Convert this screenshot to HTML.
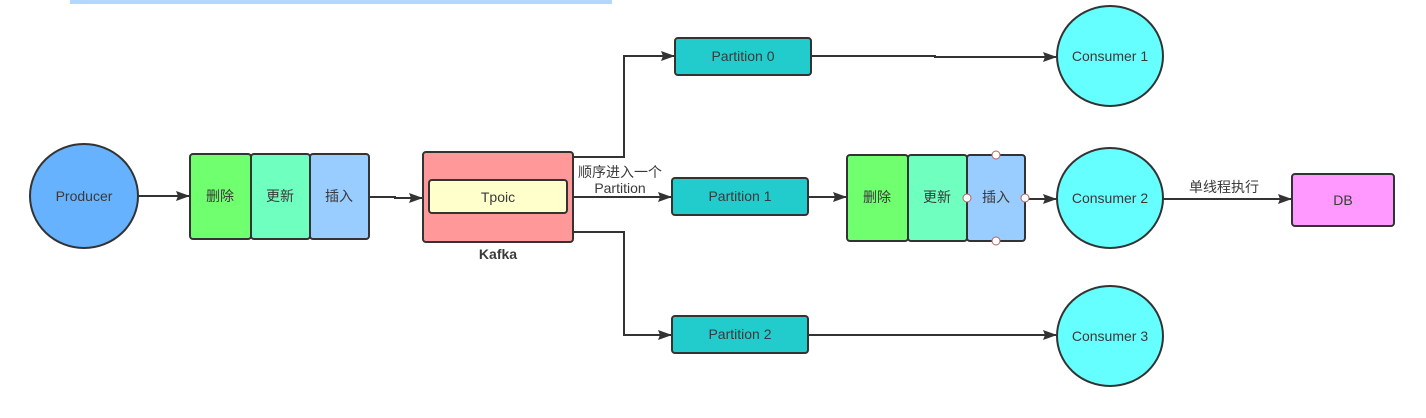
<!DOCTYPE html>
<html><head><meta charset="utf-8"><style>
html,body{margin:0;padding:0;background:#fff;}
svg{display:block;}
text{font-family:"Liberation Sans","Noto Sans CJK SC",sans-serif;font-size:14px;fill:#3a3a3a;}
</style></head><body>
<svg width="1426" height="418" viewBox="0 0 1426 418" xmlns="http://www.w3.org/2000/svg">
<defs><marker id="a" markerWidth="14" markerHeight="10" refX="13" refY="5" orient="auto" markerUnits="userSpaceOnUse"><path d="M0,0 L14,5 L0,10 L2,5 z" fill="#333"/></marker></defs>
<rect x="70" y="0" width="542" height="4" fill="#b3d7ff"/>
<g stroke="#333" stroke-width="2" fill="none" marker-end="url(#a)">
<path d="M138,196 H189"/>
<path d="M369,197 H395 V198 H422"/>
<path d="M573,157 H624 V56 H674"/>
<path d="M567,197 H671"/>
<path d="M573,232 H624 V335 H671"/>
<path d="M811,56 H935 V57 H1056"/>
<path d="M808,197 H846"/>
<path d="M808,335 H1056"/>
<path d="M1025,199 H1056"/>
<path d="M1163,199 H1291"/>
</g>
<g stroke="#333" stroke-width="2">
<ellipse cx="84" cy="196" rx="54" ry="52" fill="#66b2ff"/>
<rect x="190" y="154" width="61" height="85" rx="3" fill="#6fff6f"/>
<rect x="251" y="154" width="59" height="85" rx="3" fill="#6fffbf"/>
<rect x="310" y="154" width="59" height="85" rx="3" fill="#99ccff"/>
<rect x="423" y="152" width="150" height="90" rx="3" fill="#ff9999"/>
<rect x="429" y="180" width="138" height="33" rx="3" fill="#ffffcc"/>
<rect x="675" y="38" width="136" height="37" rx="3" fill="#22cccc"/>
<rect x="672" y="178" width="136" height="37" rx="3" fill="#22cccc"/>
<rect x="672" y="316" width="136" height="37" rx="3" fill="#22cccc"/>
<rect x="847" y="155" width="61" height="86" rx="3" fill="#6fff6f"/>
<rect x="908" y="155" width="59" height="86" rx="3" fill="#6fffbf"/>
<rect x="967" y="155" width="58" height="86" rx="3" fill="#99ccff"/>
<ellipse cx="1110" cy="56" rx="53" ry="50" fill="#66ffff"/>
<ellipse cx="1110" cy="198" rx="53" ry="50" fill="#66ffff"/>
<ellipse cx="1110" cy="336" rx="53" ry="50" fill="#66ffff"/>
<rect x="1292" y="174" width="102" height="52" rx="3" fill="#ff99ff"/>
</g>
<g fill="#fff" stroke="#b46464" stroke-width="1">
<circle cx="996" cy="155" r="4"/><circle cx="996" cy="241" r="4"/>
<circle cx="967" cy="198" r="4"/><circle cx="1025" cy="198" r="4"/>
</g>
<g text-anchor="middle">
<text x="84" y="201">Producer</text>
<text x="220" y="201">删除</text>
<text x="280" y="201">更新</text>
<text x="339" y="201">插入</text>
<text x="498" y="202">Tpoic</text>
<text x="498" y="259" font-weight="bold">Kafka</text>
<text x="620" y="177">顺序进入一个</text>
<text x="620" y="193">Partition</text>
<text x="743" y="61">Partition 0</text>
<text x="740" y="201">Partition 1</text>
<text x="740" y="339">Partition 2</text>
<text x="877" y="202">删除</text>
<text x="937" y="202">更新</text>
<text x="996" y="202">插入</text>
<text x="1110" y="61">Consumer 1</text>
<text x="1110" y="203">Consumer 2</text>
<text x="1110" y="341">Consumer 3</text>
<text x="1224" y="192">单线程执行</text>
<text x="1343" y="205">DB</text>
</g>
</svg>
</body></html>
